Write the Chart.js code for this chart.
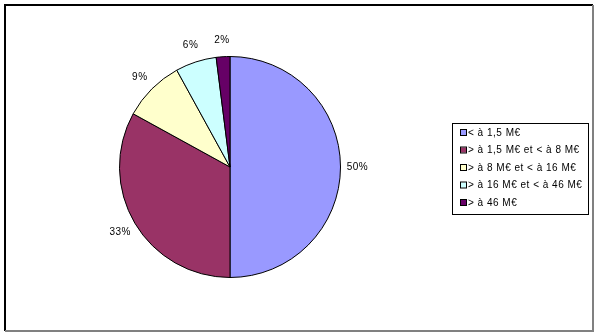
<!DOCTYPE html>
<html>
<head>
<meta charset="utf-8">
<script src="https://cdn.jsdelivr.net/npm/chart.js@4.4.0/dist/chart.umd.min.js"></script>
<style>
  html, body { margin: 0; padding: 0; background: #fff; }
  #wrap { width: 597px; height: 336px; position: relative; }
</style>
</head>
<body>
<div id="wrap"><canvas id="myPieChart" width="597" height="336"></canvas></div>
<script>
var categories = ["< à 1,5 M€", "> à 1,5 M€ et < à 8 M€", "> à 8 M€ et < à 16 M€", "> à 16 M€ et < à 46 M€", "> à 46 M€"];
var shares = [50, 33, 9, 6, 2];
var pctLabels = ["50%", "33%", "9%", "6%", "2%"];
var colors = ["#9999FF", "#993366", "#FFFFCC", "#CCFFFF", "#660066"];

// frame, outside labels and legend box
var extras = {
    id: 'extras',
    beforeDraw: function(chart){
        var ctx = chart.ctx;
        ctx.save();
        ctx.fillStyle = '#fff';
        ctx.fillRect(0, 0, chart.width, chart.height);
        ctx.strokeStyle = '#000';
        ctx.lineWidth = 2;
        ctx.beginPath();
        ctx.moveTo(5, 331); ctx.lineTo(5, 5); ctx.lineTo(593, 5);
        ctx.stroke();
        ctx.strokeStyle = '#808080';
        ctx.beginPath();
        ctx.moveTo(5, 331); ctx.lineTo(593, 331); ctx.lineTo(593, 5);
        ctx.stroke();
        ctx.restore();
    },
    afterDraw: function(chart){
        var ctx = chart.ctx;
        var meta = chart.getDatasetMeta(0);
        ctx.save();
        ctx.font = '10px "Liberation Sans", Arial, sans-serif';
        ctx.letterSpacing = '0.5px';
        ctx.fillStyle = '#000';
        ctx.textAlign = 'center';
        ctx.textBaseline = 'middle';
        meta.data.forEach(function(arc, i){
            var mid = (arc.startAngle + arc.endAngle) / 2;
            var r = arc.outerRadius + 17;
            ctx.fillText(pctLabels[i], arc.x + Math.cos(mid) * r, arc.y + Math.sin(mid) * r);
        });
        // legend
        ctx.strokeStyle = '#000';
        ctx.lineWidth = 1;
        ctx.strokeRect(452.5, 123.5, 136, 91);
        ctx.textAlign = 'left';
        categories.forEach(function(c, i){
            var y = 133 + i * 17.5;
            ctx.fillStyle = colors[i];
            ctx.fillRect(461, y - 3, 5, 5);
            ctx.strokeStyle = '#000';
            ctx.strokeRect(460.5, y - 3.5, 6, 6);
            ctx.fillStyle = '#000';
            ctx.fillText(c, 468, y);
        });
        ctx.restore();
    }
};

var ctx = document.getElementById("myPieChart");
var myPieChart = new Chart(ctx, {
    type: 'pie',
    data: {
        labels: categories,
        datasets: [{
            data: shares,
            backgroundColor: colors,
            borderColor: '#000',
            borderWidth: 1
        }]
    },
    options: {
        responsive: false,
        animation: false,
        layout: { padding: { left: 119, right: 256, top: 56, bottom: 58 } },
        plugins: {
            legend: { display: false },
            tooltip: { enabled: false }
        }
    },
    plugins: [extras]
});
</script>
</body>
</html>
